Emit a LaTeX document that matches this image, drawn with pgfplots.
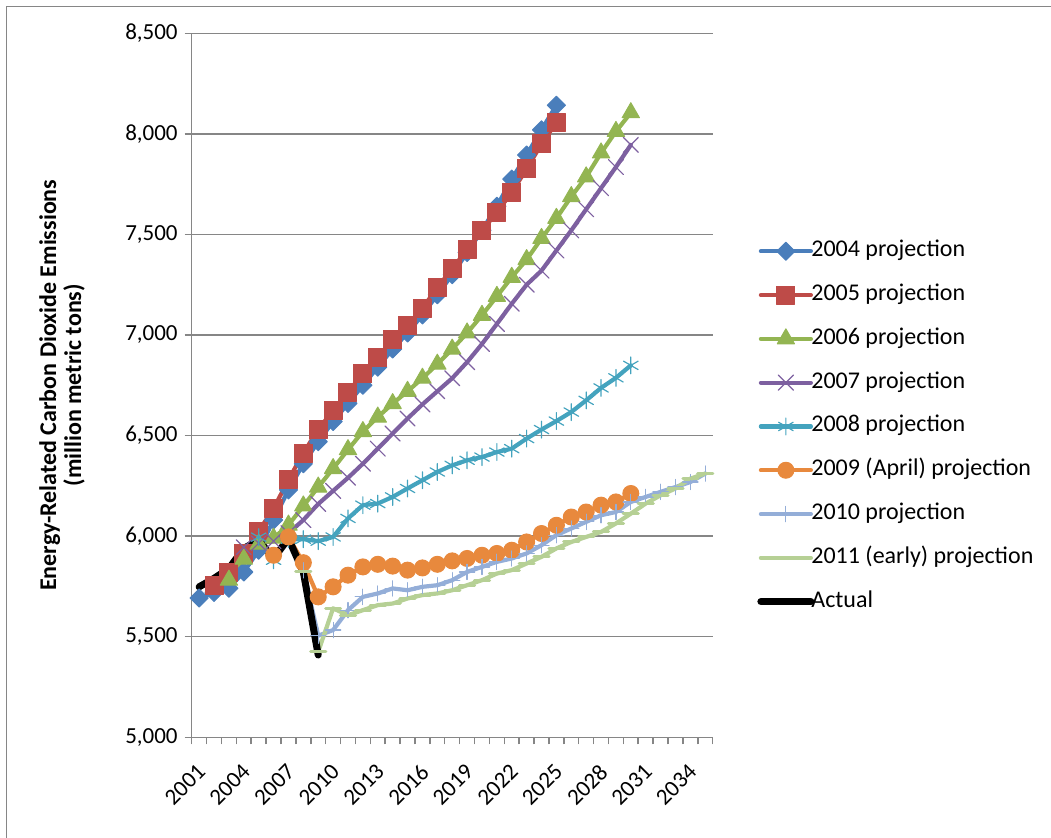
\documentclass[border=0pt]{standalone}
\usepackage{fontspec}
\setmainfont{Carlito}
\usepackage{pgfplots}
\pgfplotsset{compat=1.18}

\definecolor{cA}{HTML}{4A7EBB}
\definecolor{cB}{HTML}{BE4B48}
\definecolor{cC}{HTML}{93B552}
\definecolor{cD}{HTML}{7D60A0}
\definecolor{cE}{HTML}{44A3BE}
\definecolor{cF}{HTML}{E8893D}
\definecolor{cG}{HTML}{94AED8}
\definecolor{cH}{HTML}{B6D095}
\definecolor{axgray}{HTML}{868686}

\begin{document}
\begin{tikzpicture}[font=\fontsize{12}{14}\selectfont]
\path[use as bounding box] (0pt,0pt) rectangle (525.5pt,419pt);
\draw[axgray, line width=0.75pt] (3.3pt,0pt) -- (3.3pt,415.7pt) -- (525.5pt,415.7pt);
\begin{axis}[
  at={(95.85pt,50.35pt)}, anchor=south west,
  scale only axis, width=260.5pt, height=352pt,
  xmin=2000.5, xmax=2035.5, ymin=5000, ymax=8500,
  axis x line*=bottom, axis y line*=left,
  axis line style={axgray, line width=0.75pt, -},
  ymajorgrids, grid style={axgray, line width=0.75pt},
  ytick={5000,5500,...,8500},
  yticklabels={{5,000},{5,500},{6,000},{6,500},{7,000},{7,500},{8,000},{8,500}},
  xtick={2001,2004,2007,2010,2013,2016,2019,2022,2025,2028,2031,2034},
  xticklabels={2001,2004,2007,2010,2013,2016,2019,2022,2025,2028,2031,2034},
  minor xtick={2000.5,2001.5,...,2035.5},
  tick align=outside,
  major tick length=3.5pt, minor tick length=3.5pt,
  major x tick style={draw=none},
  every tick/.style={axgray, line width=0.75pt},
  minor x tick style={axgray, line width=0.75pt},
  yticklabel style={font=\fontsize{11.5}{14}\selectfont},
  xticklabel style={font=\fontsize{11.5}{14}\selectfont, inner sep=0pt, xshift=-1.5pt, yshift=-9pt, rotate=45, anchor=north east},
  ylabel={Energy-Related Carbon Dioxide Emissions\\(million metric tons)},
  ylabel style={at={(-0.249,0.5)}, anchor=center, align=center, font=\bfseries\fontsize{12}{12.5}\selectfont},
  legend style={draw=none, fill=none, at={(1.085,0.708)}, anchor=north west,
    inner sep=0pt, row sep=9.9pt, column sep=-1.5pt,
    font=\fontsize{12}{14}\selectfont,
    nodes={inner sep=0pt, text height=8.7pt, text depth=3.3pt, anchor=west}},
  legend cell align=left,
  legend image code/.code={\draw[#1, mark repeat=2, mark phase=2] plot coordinates {(0pt,0pt) (12.5pt,0pt) (25pt,0pt)};},
  every axis plot/.append style={line width=2.1pt, line join=round, line cap=round},
]
% 2004 projection
\addplot[cA, mark=square*, mark size=3.2pt, mark options={rotate=45, line width=0.5pt, fill=cA, solid}] coordinates {
(2001,5692) (2002,5720) (2003,5741) (2004,5822) (2005,5930) (2006,6080) (2007,6230)
(2008,6360) (2009,6470) (2010,6570) (2011,6660) (2012,6750) (2013,6840) (2014,6930)
(2015,7010) (2016,7100) (2017,7200) (2018,7300) (2019,7410) (2020,7520) (2021,7640)
(2022,7775) (2023,7895) (2024,8020) (2025,8142)};
% 2005 projection
\addplot[cB, mark=square*, mark size=4.5pt, mark options={line width=0.5pt, fill=cB, solid}] coordinates {
(2002,5756) (2003,5820) (2004,5914) (2005,6025) (2006,6137) (2007,6280) (2008,6413)
(2009,6530) (2010,6625) (2011,6716) (2012,6808) (2013,6887) (2014,6976) (2015,7047)
(2016,7133) (2017,7235) (2018,7329) (2019,7425) (2020,7519) (2021,7610) (2022,7709)
(2023,7826) (2024,7950) (2025,8057)};
% 2006 projection
\addplot[cC, mark=triangle*, mark size=5pt, mark options={line width=0.5pt, fill=cC, solid}] coordinates {
(2003,5781) (2004,5886) (2005,5960) (2006,5990) (2007,6055) (2008,6150) (2009,6244)
(2010,6336) (2011,6430) (2012,6520) (2013,6592) (2014,6659) (2015,6720) (2016,6785)
(2017,6855) (2018,6930) (2019,7010) (2020,7098) (2021,7192) (2022,7287) (2023,7375)
(2024,7480) (2025,7580) (2026,7688) (2027,7786) (2028,7905) (2029,8012) (2030,8105)};
% 2007 projection
\addplot[cD, mark=x, mark size=5.3pt, mark options={line width=0.6pt, solid}] coordinates {
(2004,5945) (2005,5965) (2006,5975) (2007,6015) (2008,6080) (2009,6160) (2010,6225)
(2011,6290) (2012,6360) (2013,6435) (2014,6510) (2015,6585) (2016,6655) (2017,6720)
(2018,6785) (2019,6865) (2020,6955) (2021,7055) (2022,7155) (2023,7250) (2024,7320)
(2025,7420) (2026,7520) (2027,7625) (2028,7730) (2029,7835) (2030,7945)};
% 2008 projection
\addplot[cE, mark=asterisk, mark size=4.2pt, mark options={line width=0.6pt, solid}] coordinates {
(2005,5995) (2006,5880) (2007,5985) (2008,5985) (2009,5975) (2010,5996) (2011,6088)
(2012,6154) (2013,6162) (2014,6195) (2015,6237) (2016,6278) (2017,6319) (2018,6352)
(2019,6377) (2020,6393) (2021,6418) (2022,6435) (2023,6485) (2024,6530) (2025,6572)
(2026,6617) (2027,6675) (2028,6737) (2029,6787) (2030,6849)};
% 2009 (April) projection
\addplot[cF, mark=*, mark size=4pt, mark options={line width=0.5pt, fill=cF, solid}] coordinates {
(2006,5905) (2007,5996) (2008,5868) (2009,5698) (2010,5748) (2011,5806) (2012,5847)
(2013,5860) (2014,5851) (2015,5831) (2016,5842) (2017,5860) (2018,5877) (2019,5889)
(2020,5905) (2021,5914) (2022,5930) (2023,5971) (2024,6013) (2025,6054) (2026,6095)
(2027,6120) (2028,6154) (2029,6170) (2030,6212)};
% 2010 projection
\addplot[cG, mark=+, mark size=3.8pt, mark options={line width=0.6pt, solid}] coordinates {
(2008,5830) (2009,5505) (2010,5533) (2011,5632) (2012,5698) (2013,5715) (2014,5740)
(2015,5731) (2016,5748) (2017,5756) (2018,5781) (2019,5822) (2020,5847) (2021,5872)
(2022,5889) (2023,5914) (2024,5955) (2025,6005) (2026,6038) (2027,6071) (2028,6104)
(2029,6120) (2030,6170) (2031,6195) (2032,6220) (2033,6244) (2034,6269) (2035,6311)};
% 2011 (early) projection
\addplot[cH, mark=-, mark size=3.8pt, mark options={line width=1.5pt, solid}] coordinates {
(2008,5822) (2009,5425) (2010,5641) (2011,5607) (2012,5632) (2013,5657) (2014,5665)
(2015,5690) (2016,5707) (2017,5715) (2018,5731) (2019,5756) (2020,5781) (2021,5814)
(2022,5831) (2023,5864) (2024,5897) (2025,5939) (2026,5971) (2027,5996) (2028,6021)
(2029,6063) (2030,6112) (2031,6162) (2032,6203) (2033,6237) (2034,6286) (2035,6311)};
% Actual
\addplot[black, no marks, line width=3.5pt] coordinates {
(2001,5748) (2002,5790) (2003,5839) (2004,5939) (2005,5980) (2006,5889) (2007,5988)
(2008,5822) (2009,5409)};
\legend{2004 projection,2005 projection,2006 projection,2007 projection,2008 projection,2009 (April) projection,2010 projection,2011 (early) projection,Actual}
\end{axis}
\end{tikzpicture}
\end{document}
